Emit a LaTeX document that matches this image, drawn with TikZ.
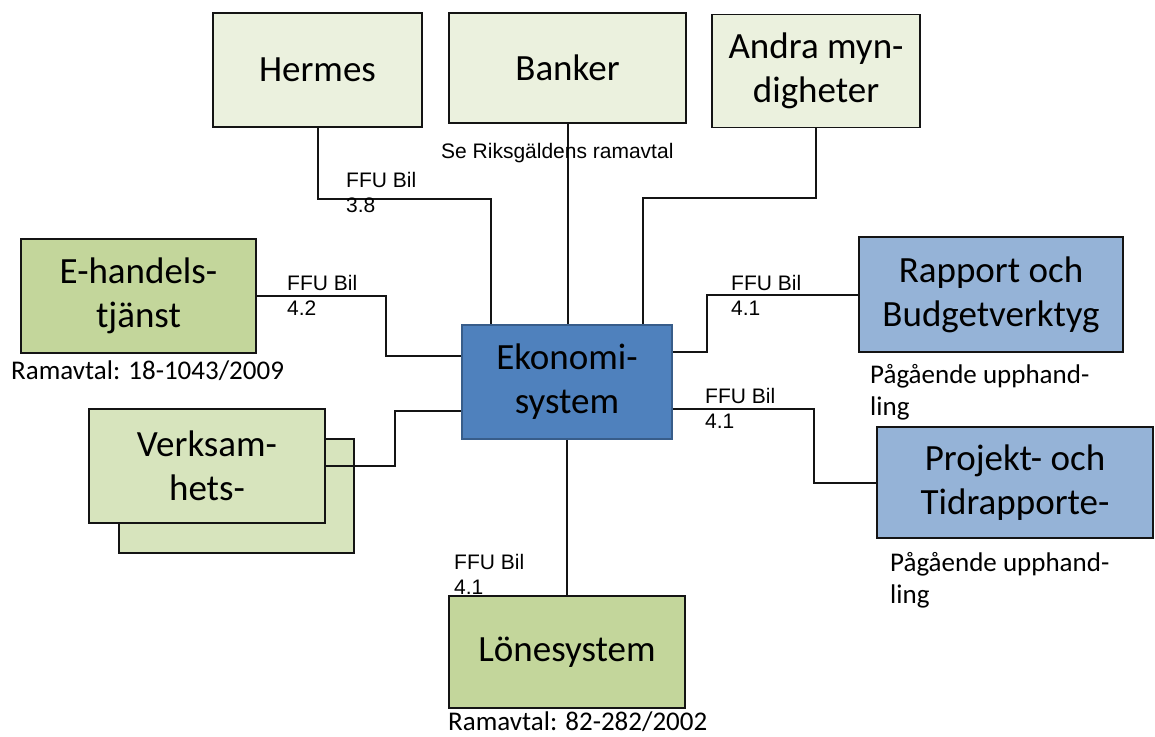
\documentclass[tikz,border=0pt]{standalone}
\usepackage{fontspec}
\setmainfont{Carlito}
\newfontfamily\arialfont{Liberation Sans}
\usepackage{xcolor}
\usetikzlibrary{positioning, calc}
\definecolor{palegreen}{RGB}{235, 241, 222}
\definecolor{leafgreen}{RGB}{195, 214, 155}
\definecolor{softgreen}{RGB}{215, 228, 189}
\definecolor{coreblue}{RGB}{79, 129, 189}
\definecolor{coreedge}{RGB}{56, 93, 138}
\definecolor{skyblue}{RGB}{149, 179, 215}
\definecolor{darkline}{RGB}{20, 20, 20}

\begin{document}
\begin{tikzpicture}[
    x=1pt, y=-1pt,
    box/.style={rectangle, draw=darkline, line width=1.8pt, inner sep=0pt, align=center, font=\fontsize{37}{44}\selectfont},
    external/.style={box, fill=palegreen},
    supplier/.style={box, fill=leafgreen},
    internal/.style={box, fill=softgreen},
    core/.style={box, fill=coreblue, draw=coreedge},
    tool/.style={box, fill=skyblue},
    link/.style={line width=2pt, draw=darkline},
    ffu/.style={anchor=north west, inner sep=0pt, align=left, font=\arialfont\fontsize{21}{25}\selectfont},
    note/.style={anchor=north west, inner sep=0pt, align=left, font=\fontsize{27}{32}\selectfont}
]
\useasboundingbox (0,0) rectangle (1155,736);

% Top row
\node (hermes) [external, minimum width=209, minimum height=114] at (317.5,70) {Hermes};
\node (banker) [external, minimum width=237, minimum height=110] at (567.5,68) {Banker};
\node (andra) [external, minimum width=208, minimum height=113] at (816,71) {Andra myn-\\digheter};

% Left side
\node (ehandel) [supplier, minimum width=235, minimum height=114] at (138.5,296) {E-handels-\\tjänst};
\node (verkback) [internal, minimum width=235, minimum height=114] at (236.5,496) {};
\node (verk) [internal, minimum width=236, minimum height=114] at (207,466) {Verksam-\\hets-};

% Centre
\node (eko) [core, minimum width=210, minimum height=114] at (567,382) {Ekonomi-\\system};

% Right side
\node (rapport) [tool, minimum width=264, minimum height=115] at (991,294.5) {Rapport och\\Budgetverktyg};
\node (projekt) [tool, minimum width=276, minimum height=111] at (1015,482.5) {Projekt- och\\Tidrapporte-};

% Bottom
\node (lone) [supplier, minimum width=236, minimum height=112] at (567,652) {Lönesystem};

% Connectors
\draw [link] (hermes.south) -- ++(0,71) -| ([xshift=-76pt]eko.north);
\draw [link] (banker.south) -- (banker.south |- eko.north);
\draw [link] (andra.south) -- ++(0,70) -| ([xshift=76pt]eko.north);
\draw [link] (ehandel.east) -- ++(129,0) |- ([yshift=26pt]eko.west);
\draw [link] (verk.east) -- ++(69,0) |- ([yshift=-29pt]eko.west);
\draw [link] (rapport.west) -- ++(-151,0) |- ([yshift=30pt]eko.east);
\draw [link] (projekt.west) -- ++(-62,0) |- ([yshift=-27pt]eko.east);
\draw [link] (eko.south) -- (eko.south |- lone.north);

% Labels
\node (ffuhermes) [ffu] at (346,172) {FFU Bil\\3.8};
\node (riksgalden) [ffu] at (441,143) {Se Riksgäldens ramavtal};
\node (ffuehandel) [ffu] at (287,275) {FFU Bil\\4.2};
\node (ffurapport) [ffu] at (731,275) {FFU Bil\\4.1};
\node (ffuprojekt) [ffu] at (705,388) {FFU Bil\\4.1};
\node (ffulone) [ffu] at (454,554) {FFU Bil\\4.1};

\node (ramehandel) [note] at (11,361) {Ramavtal: 18-1043/2009};
\node (ramlone) [note, anchor=base west] at (448,730) {Ramavtal: 82-282/2002};
\node (upphrapport) [note] at (870,364) {Pågående upphand-\\ling};
\node (upphprojekt) [note] at (890,552) {Pågående upphand-\\ling};

\end{tikzpicture}
\end{document}
